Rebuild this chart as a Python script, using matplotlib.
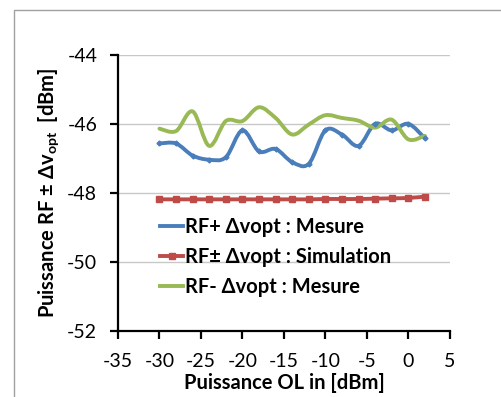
import matplotlib
matplotlib.use("Agg")
import matplotlib.pyplot as plt
from matplotlib.path import Path
from matplotlib.patches import PathPatch, Rectangle
from matplotlib.lines import Line2D
import numpy as np

plt.rcParams['font.family'] = ['Lato', 'DejaVu Sans']
plt.rcParams['mathtext.fontset'] = 'custom'
plt.rcParams['mathtext.bf'] = 'Lato:bold'
plt.rcParams['mathtext.rm'] = 'Lato'

# Data
x_vals = [-30, -28, -26, -24, -22, -20, -18, -16, -14, -12, -10, -8, -6, -4, -2, 0, 2]
rf_plus = [-46.56, -46.56, -46.91, -47.03, -46.96, -46.18, -46.79, -46.72, -47.10, -47.15,
           -46.18, -46.30, -46.63, -45.99, -46.18, -45.99, -46.41]
rf_sim = [-48.18, -48.18, -48.18, -48.18, -48.18, -48.18, -48.18, -48.18, -48.18, -48.18,
          -48.17, -48.17, -48.17, -48.16, -48.15, -48.14, -48.10]
rf_minus = [-46.13, -46.20, -45.63, -46.63, -45.91, -45.91, -45.51, -45.82, -46.30, -46.01,
            -45.74, -45.82, -45.90, -46.10, -45.87, -46.44, -46.34]
labels = ["RF+ Δvopt : Mesure", "RF± Δvopt : Simulation", "RF- Δvopt : Mesure"]
colors = ["#4A7EBB", "#BE4B48", "#98B954"]
xticks = [-35, -30, -25, -20, -15, -10, -5, 0, 5]
yticks = [-52, -50, -48, -46, -44]


def smooth_path(xs, ys):
    pts = np.column_stack([xs, ys]).astype(float)
    n = len(pts)
    verts = [pts[0]]
    codes = [Path.MOVETO]
    for i in range(n - 1):
        p0 = pts[i - 1] if i > 0 else pts[i]
        p1 = pts[i]
        p2 = pts[i + 1]
        p3 = pts[i + 2] if i + 2 < n else pts[i + 1]
        c1 = p1 + (p2 - p0) / 6.0
        c2 = p2 - (p3 - p1) / 6.0
        verts += [c1, c2, p2]
        codes += [Path.CURVE4] * 3
    return Path(verts, codes)


fig = plt.figure(figsize=(5.02, 3.97), dpi=100)
ax = fig.add_axes([0.235, 0.166, 0.661, 0.695])

# outer frame
fig.patches.append(Rectangle((14 / 502, -0.1), 1.2, 1.1 - 10 / 397,
                             transform=fig.transFigure, fill=False,
                             edgecolor="#A0A0A0", linewidth=1.0))

series = [(rf_plus, colors[0], 'D', 2.5), (rf_sim, colors[1], 's', 5), (rf_minus, colors[2], None, 0)]
for ys, c, m, ms in series:
    ax.add_patch(PathPatch(smooth_path(x_vals, ys), facecolor='none', edgecolor=c,
                           linewidth=2.8, capstyle='round', joinstyle='round', zorder=3))
    if m:
        ax.plot(x_vals, ys, linestyle='none', marker=m, markersize=ms, color=c, zorder=4)

ax.set_xlim(-35, 5)
ax.set_ylim(-52, -44)
ax.set_xticks(xticks)
ax.set_yticks(yticks)
ax.set_xticklabels([str(t) for t in xticks])
ax.set_yticklabels([str(t) for t in yticks])
ax.yaxis.grid(True, color="#C8C8C8", linewidth=1.0)
ax.set_axisbelow(True)
for s in ['top', 'right']:
    ax.spines[s].set_visible(False)
for s in ['left', 'bottom']:
    ax.spines[s].set_linewidth(1.6)
ax.tick_params(axis='both', direction='out', length=6, width=1.6, labelsize=14, colors='black')
ax.tick_params(axis='y', pad=9)
ax.tick_params(axis='x', pad=10)

ax.set_xlabel("Puissance OL in [dBm]", fontsize=14.5, fontweight='bold', labelpad=2)
ax.set_ylabel(r"Puissance RF ± Δ$\mathbf{v}_{\mathbf{opt}}$  [dBm]", fontsize=14.5,
              fontweight='bold', labelpad=4)

handles = [Line2D([], [], color=colors[0], linewidth=2.8),
           Line2D([], [], color=colors[1], linewidth=2.8, marker='s', markersize=5),
           Line2D([], [], color=colors[2], linewidth=2.8)]
leg = ax.legend(handles, labels, loc='upper left', bbox_to_anchor=(0.127, 0.415),
                frameon=False, prop={'weight': 'bold', 'size': 14.5},
                handlelength=1.15, handletextpad=0.1, labelspacing=0.5,
                borderaxespad=0, borderpad=0)

fig.savefig("out.png", dpi=100)
